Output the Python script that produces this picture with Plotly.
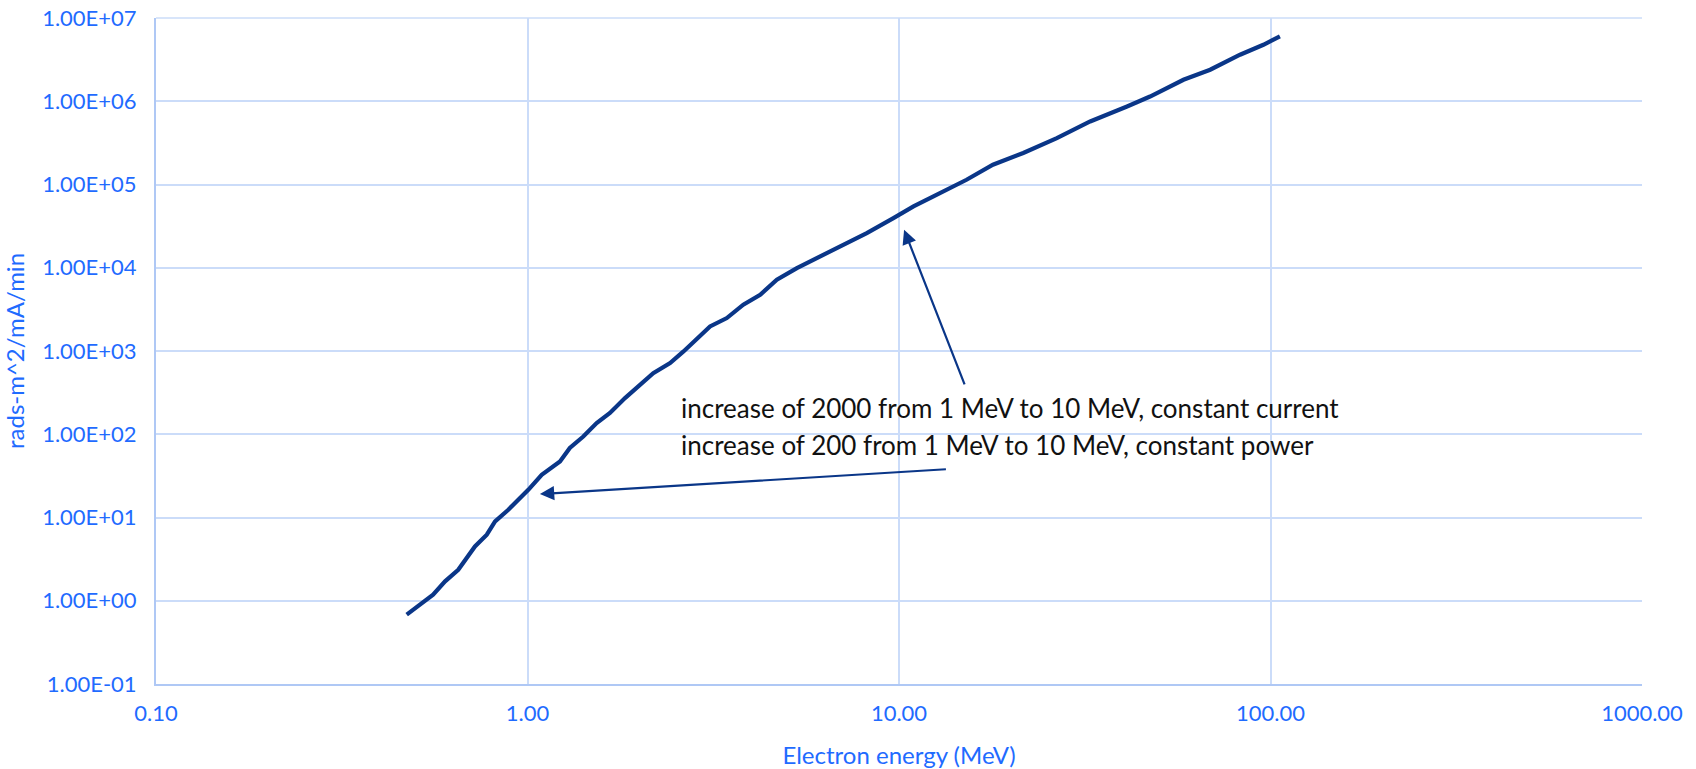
import plotly.graph_objects as go
import math

# Data
energy_mev = [0.473, 0.557, 0.600, 0.651, 0.722, 0.777, 0.818, 0.888, 1.005, 1.092,
              1.223, 1.30, 1.413, 1.535, 1.667, 1.83, 2.18, 2.42, 2.63, 2.86,
              3.10, 3.44, 3.81, 4.23, 4.69, 5.31, 6.01, 6.94, 8.19, 9.66,
              10.94, 12.38, 15.2, 17.9, 21.6, 26.6, 32.7, 41.1, 47.4, 58.3,
              68.8, 82.8, 95.7, 106.0]
dose = [0.68, 1.18, 1.71, 2.36, 4.49, 6.21, 8.97, 12.4, 21.5, 32.6,
        47.1, 68.3, 94, 136, 180, 272, 543, 716, 988, 1432,
        1973, 2487, 3595, 4742, 7177, 9910, 13080, 18030, 26100, 39500,
        54500, 71900, 114000, 172600, 238700, 361000, 572000, 866000, 1.14e6, 1.81e6,
        2.39e6, 3.62e6, 4.77e6, 6.0e6]

x_tickvals = [0.1, 1, 10, 100, 1000]
x_ticktext = ["0.10", "1.00", "10.00", "100.00", "1000.00"]
y_tickvals = [1e-1, 1e0, 1e1, 1e2, 1e3, 1e4, 1e5, 1e6, 1e7]
y_ticktext = ["1.00E-01", "1.00E+00", "1.00E+01", "1.00E+02", "1.00E+03",
              "1.00E+04", "1.00E+05", "1.00E+06", "1.00E+07"]

note_lines = ["increase of 2000 from 1 MeV to 10 MeV, constant current",
              "increase of 200 from 1 MeV to 10 MeV, constant power"]

# annotation arrows: (tip energy, tip dose, tail energy, tail dose)
arrow_current = (10.32, 28600, 15.07, 382)
arrow_power = (1.08, 19.1, 13.5, 38.1)

BLUE = "#1F6BFF"
GRID = "#CBDCF9"
AXIS = "#AFC8F5"
LINE = "#0A3688"
FONT = "Lato, 'Open Sans', sans-serif"

L = math.log10

fig = go.Figure()
fig.add_trace(go.Scatter(x=energy_mev, y=dose, mode="lines",
                         line=dict(color=LINE, width=4.2), showlegend=False,
                         hoverinfo="skip"))

arrow_common = dict(xref="x", yref="y", axref="x", ayref="y", showarrow=True,
                    arrowhead=2, arrowsize=1.3, arrowwidth=2.2, arrowcolor=LINE, text="")
for tx, ty, sx, sy in (arrow_power, arrow_current):
    fig.add_annotation(x=L(tx), y=L(ty), ax=L(sx), ay=L(sy), **arrow_common)

fig.add_annotation(x=0.408, y=2.31, xref="x", yref="y", text=note_lines[0],
                   showarrow=False, xanchor="left", yanchor="middle",
                   font=dict(family=FONT, size=26, color="#111111"))
fig.add_annotation(x=0.408, y=1.87, xref="x", yref="y", text=note_lines[1],
                   showarrow=False, xanchor="left", yanchor="middle",
                   font=dict(family=FONT, size=26, color="#111111"))

# top border of the plot area (gridline at the top of the range)
fig.add_shape(type="line", xref="paper", yref="paper", x0=0, x1=1, y0=1, y1=1,
              line=dict(color=GRID, width=1.5), layer="below")

fig.update_layout(
    width=1696, height=769,
    margin=dict(l=156, r=54, t=18, b=85, autoexpand=False),
    paper_bgcolor="white", plot_bgcolor="white",
    font=dict(family=FONT, color=BLUE),
    xaxis=dict(type="log", range=[-1, 3], tickvals=x_tickvals, ticktext=x_ticktext,
               automargin=False,
               showgrid=True, gridcolor=GRID, gridwidth=1.5,
               showline=True, linecolor=AXIS, linewidth=2, mirror=False,
               zeroline=False, ticks="", ticklabelstandoff=9,
               ticklabeloverflow="allow",
               tickfont=dict(family=FONT, size=22, color=BLUE),
               title=dict(text="Electron energy (MeV)", standoff=23,
                          font=dict(family=FONT, size=24, color=BLUE))),
    yaxis=dict(type="log", range=[-1, 7], tickvals=y_tickvals, ticktext=y_ticktext,
               automargin=False,
               showgrid=True, gridcolor=GRID, gridwidth=1.5,
               showline=True, linecolor=AXIS, linewidth=2,
               zeroline=False, ticks="", ticklabelstandoff=13,
               ticklabeloverflow="allow",
               tickfont=dict(family=FONT, size=22, color=BLUE),
               title=dict(text="rads-m^2/mA/min", standoff=15,
                          font=dict(family=FONT, size=24, color=BLUE))),
)

# remove the default page margin so the figure fills the window exactly
fig.write_html("out.html", config={"displayModeBar": False},
               post_script="document.body.style.margin='0';document.body.style.overflow='hidden';")
